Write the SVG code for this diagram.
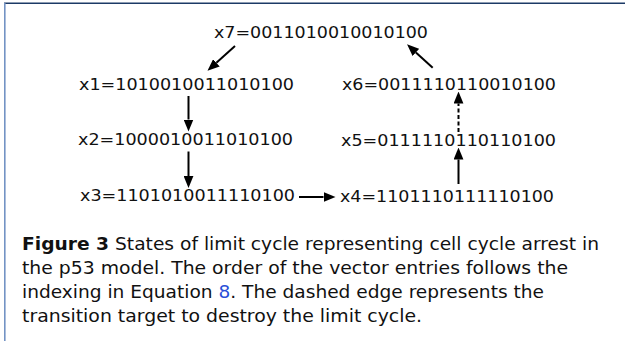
<svg xmlns="http://www.w3.org/2000/svg" width="625" height="341" viewBox="0 0 625 341">
<defs>
<style>
.lbl{font-family:"DejaVu Sans",sans-serif;font-size:16.5px;fill:#111}
.cap{font-family:"DejaVu Sans","Liberation Sans",sans-serif;font-size:18px;fill:#111}
.edge{stroke:#000;stroke-width:2;fill:none}
.dash{stroke-dasharray:4,2.5}
</style>
<marker id="ah" markerUnits="userSpaceOnUse" markerWidth="12" markerHeight="10" refX="0" refY="4.5" orient="auto" viewBox="0 0 11 9">
<path d="M0,0 L11,4.5 L0,9 Z" fill="#000"/>
</marker>
</defs>
<rect x="0" y="0" width="625" height="341" fill="#fff"/>
<line x1="4" y1="3.2" x2="625" y2="3.2" stroke="#1c3a66" stroke-width="1.6"/>
<line x1="4.8" y1="3" x2="4.8" y2="341" stroke="#7393c4" stroke-width="1.6"/>
<g id="x7"><text class="lbl" x="214" y="37.5" textLength="214" lengthAdjust="spacingAndGlyphs">x7=0011010010010100</text></g>
<g id="x1"><text class="lbl" x="79" y="90" textLength="215" lengthAdjust="spacingAndGlyphs">x1=1010010011010100</text></g>
<g id="x6"><text class="lbl" x="342" y="89.5" textLength="214" lengthAdjust="spacingAndGlyphs">x6=0011110110010100</text></g>
<g id="x2"><text class="lbl" x="78" y="145" textLength="215" lengthAdjust="spacingAndGlyphs">x2=1000010011010100</text></g>
<g id="x5"><text class="lbl" x="341" y="145.5" textLength="215" lengthAdjust="spacingAndGlyphs">x5=0111110110110100</text></g>
<g id="x3"><text class="lbl" x="80" y="200.7" textLength="215" lengthAdjust="spacingAndGlyphs">x3=1101010011110100</text></g>
<g id="x4"><text class="lbl" x="340" y="201.5" textLength="214" lengthAdjust="spacingAndGlyphs">x4=1101110111110100</text></g>
<g id="connectors">
<line class="edge" x1="235" y1="46" x2="216.4" y2="62.8" marker-end="url(#ah)"/>
<line class="edge" x1="188.5" y1="96" x2="188.5" y2="119.5" marker-end="url(#ah)"/>
<line class="edge" x1="188.5" y1="151.5" x2="188.5" y2="176" marker-end="url(#ah)"/>
<line class="edge" x1="299" y1="197" x2="323.5" y2="197" marker-end="url(#ah)"/>
<line class="edge" x1="458.5" y1="184" x2="458.5" y2="159.5" marker-end="url(#ah)"/>
<line class="edge dash" x1="458.5" y1="132" x2="458.5" y2="103.5" marker-end="url(#ah)"/>
<line class="edge" x1="432.7" y1="67.7" x2="415.9" y2="52.4" marker-end="url(#ah)"/>
</g>
<g id="caption">
<text class="cap" x="22" y="250" textLength="577" lengthAdjust="spacingAndGlyphs"><tspan font-weight="bold">Figure 3</tspan> States of limit cycle representing cell cycle arrest in</text>
<text class="cap" x="22" y="274" textLength="546" lengthAdjust="spacingAndGlyphs">the p53 model. The order of the vector entries follows the</text>
<text class="cap" x="22" y="298" textLength="522" lengthAdjust="spacingAndGlyphs">indexing in Equation <tspan fill="#2a4fd8">8</tspan>. The dashed edge represents the</text>
<text class="cap" x="22" y="321.5" textLength="400" lengthAdjust="spacingAndGlyphs">transition target to destroy the limit cycle.</text>
</g>
</svg>
